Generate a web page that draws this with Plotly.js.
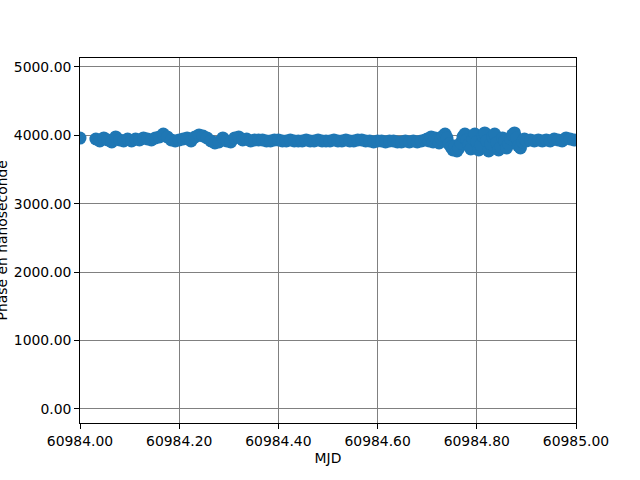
<!DOCTYPE html>
<html>
<head>
<meta charset="utf-8">
<script src="https://cdn.plot.ly/plotly-3.0.1.min.js"></script>
<style>html,body{margin:0;padding:0;background:#fff;}#chart{width:640px;height:480px;}</style>
</head>
<body>
<div id="chart"></div>
<script>
// MJD timestamps (days)
const mjd = [
  60984.000,
  60984.032, 60984.040, 60984.048, 60984.056, 60984.064, 60984.072, 60984.080, 60984.088, 60984.096, 60984.104,
  60984.112, 60984.120, 60984.128, 60984.136, 60984.144, 60984.152, 60984.160, 60984.168, 60984.176, 60984.184,
  60984.192, 60984.200, 60984.208, 60984.216, 60984.224, 60984.232, 60984.240, 60984.248, 60984.256, 60984.264,
  60984.272, 60984.280, 60984.288, 60984.296, 60984.304, 60984.312, 60984.320, 60984.328, 60984.336, 60984.344,
  60984.352, 60984.360, 60984.368, 60984.376, 60984.384, 60984.392, 60984.400, 60984.408, 60984.416, 60984.424,
  60984.432, 60984.440, 60984.448, 60984.456, 60984.464, 60984.472, 60984.480, 60984.488, 60984.496, 60984.504,
  60984.512, 60984.520, 60984.528, 60984.536, 60984.544, 60984.552, 60984.560, 60984.568, 60984.576, 60984.584,
  60984.592, 60984.600, 60984.608, 60984.616, 60984.624, 60984.632, 60984.640, 60984.648, 60984.656, 60984.664,
  60984.672, 60984.680, 60984.688, 60984.696,
  60984.700, 60984.704, 60984.708, 60984.712, 60984.716, 60984.720, 60984.724, 60984.728, 60984.732, 60984.736,
  60984.740, 60984.744, 60984.748, 60984.752, 60984.756, 60984.760, 60984.764, 60984.768, 60984.772, 60984.776,
  60984.780, 60984.784, 60984.788, 60984.792, 60984.796, 60984.800, 60984.804, 60984.808, 60984.812, 60984.816,
  60984.820, 60984.824, 60984.828, 60984.832, 60984.836, 60984.840, 60984.844, 60984.848, 60984.852, 60984.856,
  60984.860, 60984.864, 60984.868, 60984.872, 60984.876, 60984.880, 60984.884, 60984.888, 60984.892, 60984.896,
  60984.900,
  60984.908, 60984.916, 60984.924, 60984.932, 60984.940, 60984.948, 60984.956, 60984.964, 60984.972, 60984.980,
  60984.988, 60984.996
];

// Phase in nanoseconds
const phaseNs = [
  3960,
  3947, 3918, 3962, 3933, 3904, 3977, 3933, 3918, 3947, 3918,
  3947, 3933, 3962, 3947, 3933, 3962, 3977, 4020, 3977, 3933,
  3918, 3933, 3947, 3962, 3918, 3977, 4006, 3991, 3962, 3918,
  3889, 3904, 3962, 3918, 3904, 3962, 3977, 3933, 3947, 3918,
  3933, 3933, 3933, 3918, 3918, 3933, 3933, 3918, 3918, 3933,
  3918, 3918, 3918, 3933, 3918, 3918, 3933, 3918, 3918, 3918,
  3933, 3918, 3918, 3933, 3918, 3918, 3933, 3933, 3918, 3918,
  3904, 3918, 3918, 3904, 3918, 3918, 3904, 3904, 3918, 3904,
  3918, 3904, 3918, 3933,
  3947, 3918, 3977, 3904, 3962, 3933, 3889, 3947, 3991, 4020,
  3962, 3874, 3830, 3787, 3845, 3772, 3816, 3889, 3977, 4020,
  3933, 3860, 3801, 3947, 4020, 3904, 3787, 3860, 3991, 4035,
  3918, 3772, 3874, 3977, 4020, 3889, 3787, 3830, 3962, 3918,
  3816, 3874, 3947, 4006, 4035, 3962, 3845, 3816, 3904, 3947,
  3918,
  3933, 3918, 3933, 3918, 3933, 3918, 3947, 3933, 3918, 3962,
  3947, 3933
];

const xTicks = [60984.0, 60984.2, 60984.4, 60984.6, 60984.8, 60985.0];
const yTicks = [0, 1000, 2000, 3000, 4000, 5000];
const xTitle = 'MJD';
const yTitle = 'Phase en nanoseconde';

const font = {family: 'DejaVu Sans', size: 13.9, color: '#000'};

const trace = {
  x: mjd,
  y: phaseNs,
  type: 'scatter',
  mode: 'markers',
  marker: {color: '#1f77b4', size: 13, line: {width: 0}},
  cliponaxis: true,
  hoverinfo: 'x+y'
};

const plotW = 640 - 80 - 64;

const layout = {
  width: 640,
  height: 480,
  margin: {l: 80, r: 64, t: 58, b: 57, pad: 0},
  paper_bgcolor: '#ffffff',
  plot_bgcolor: '#ffffff',
  font: font,
  showlegend: false,
  xaxis: {
    range: [60984.0, 60985.0],
    tickvals: xTicks,
    tickformat: '.2f',
    ticks: 'outside',
    ticklen: 4.9,
    tickwidth: 1,
    tickcolor: '#000',
    showline: true,
    linecolor: '#000',
    linewidth: 1,
    mirror: true,
    showgrid: true,
    gridcolor: '#808080',
    gridwidth: 1,
    zeroline: false,
    tickfont: font,
    title: {text: xTitle, font: font, standoff: 5}
  },
  yaxis: {
    range: [-205, 5131],
    tickvals: yTicks,
    tickformat: '.2f',
    ticks: 'outside',
    ticklen: 4.9,
    tickwidth: 1,
    tickcolor: '#000',
    showline: true,
    linecolor: '#000',
    linewidth: 1,
    mirror: true,
    showgrid: true,
    gridcolor: '#808080',
    gridwidth: 1,
    zeroline: false,
    tickfont: font
  },
  annotations: [{
    text: yTitle,
    xref: 'paper', yref: 'paper',
    x: (1 - 80) / plotW, y: 0.5,
    xanchor: 'center', yanchor: 'middle',
    textangle: -90,
    showarrow: false,
    font: font
  }]
};

Plotly.newPlot('chart', [trace], layout, {staticPlot: true, displayModeBar: false});
</script>
</body>
</html>
